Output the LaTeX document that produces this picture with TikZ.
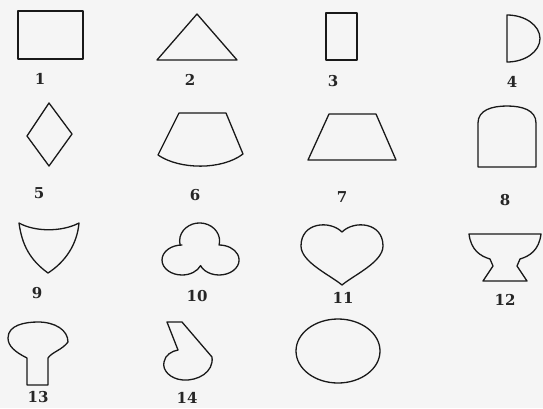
\documentclass[tikz,border=0pt]{standalone}
\usepackage{fontspec}
\newfontfamily\numfont{DejaVu Serif}
\usepackage{tikz}

\tikzset{
  figline/.style={black!90, line width=1.3pt, line join=round},
  numlab/.style={font=\numfont\fontsize{15}{17}\selectfont\bfseries, text=black!85, inner sep=0pt}
}

\begin{document}
\begin{tikzpicture}[x=1pt,y=-1pt]
\fill[black!4] (0,0) rectangle (543,408);
\useasboundingbox (0,0) rectangle (543,408);
% row 1
\draw[figline] (18,11) rectangle (83,59);
\draw[figline] (197,14) -- (237,60) -- (157,60) -- cycle;
\draw[figline] (326,13) rectangle (357,60);
\draw[figline] (507,15) -- (507,62) arc[start angle=90, end angle=-90, x radius=33, y radius=23.5] -- cycle;
\node[numlab] (lab1) at (40,79) {1};
\node[numlab] (lab2) at (190,80) {2};
\node[numlab] (lab3) at (333,81) {3};
\node[numlab] (lab4) at (512,82) {4};
% row 2
\draw[figline] (49,103) -- (72,134) -- (49,166) -- (27,136) -- cycle;
\draw[figline] (179,113) -- (226,113) -- (243,154) .. controls (222,170) and (180,170) .. (158,155) -- cycle;
\draw[figline] (329,114) -- (376,114) -- (396,160) -- (308,160) -- cycle;
\draw[figline] (478,167) -- (478,123) .. controls (478,110) and (492,106) .. (507,106)
  .. controls (522,106) and (536,110) .. (536,123) -- (536,167) -- cycle;
\node[numlab] (lab5) at (39,193) {5};
\node[numlab] (lab6) at (195,195) {6};
\node[numlab] (lab7) at (342,197) {7};
\node[numlab] (lab8) at (505,200) {8};
% row 3
\draw[figline] (19,223) .. controls (35,232) and (62,232) .. (79,223)
  .. controls (77,245) and (65,262) .. (48,273) .. controls (30,260) and (22,245) .. (19,223) -- cycle;
\draw[figline] (182,245) arc[start angle=270, end angle=22, x radius=20, y radius=15]
  arc[start angle=158, end angle=-90, x radius=20, y radius=15]
  arc[start angle=13, end angle=-193, x radius=20, y radius=18] -- cycle;
\draw[figline] (342,232) .. controls (330,220) and (301,222) .. (301,246)
  .. controls (301,262) and (330,275) .. (342,285)
  .. controls (354,275) and (383,262) .. (383,246)
  .. controls (383,222) and (354,220) .. (342,232) -- cycle;
\draw[figline] (469,234) -- (541,234) .. controls (539,250) and (530,256) .. (520,259)
  -- (517,266) -- (527,281) -- (483,281) -- (493,266) -- (490,259)
  .. controls (480,256) and (471,250) .. (469,234) -- cycle;
\node[numlab] (lab9) at (37,293) {9};
\node[numlab] (lab10) at (197,296) {10};
\node[numlab] (lab11) at (343,298) {11};
\node[numlab] (lab12) at (505,300) {12};
% row 4
\draw[figline] (27,358) .. controls (15,352) and (8,346) .. (8,338)
  .. controls (8,325) and (25,322) .. (38,322) .. controls (55,322) and (68,330) .. (68,342)
  .. controls (62,350) and (52,352) .. (48,358) -- (48,385) -- (27,385) -- cycle;
\draw[figline] (167,322) -- (182,322) -- (212,357) .. controls (214,372) and (198,381) .. (183,380)
  .. controls (170,379) and (162,370) .. (164,362) .. controls (165,355) and (172,351) .. (178,350) -- cycle;
\draw[figline] (338,351) ellipse[x radius=42, y radius=32];
\node[numlab] (lab13) at (38,397) {13};
\node[numlab] (lab14) at (187,398) {14};
\end{tikzpicture}
\end{document}
